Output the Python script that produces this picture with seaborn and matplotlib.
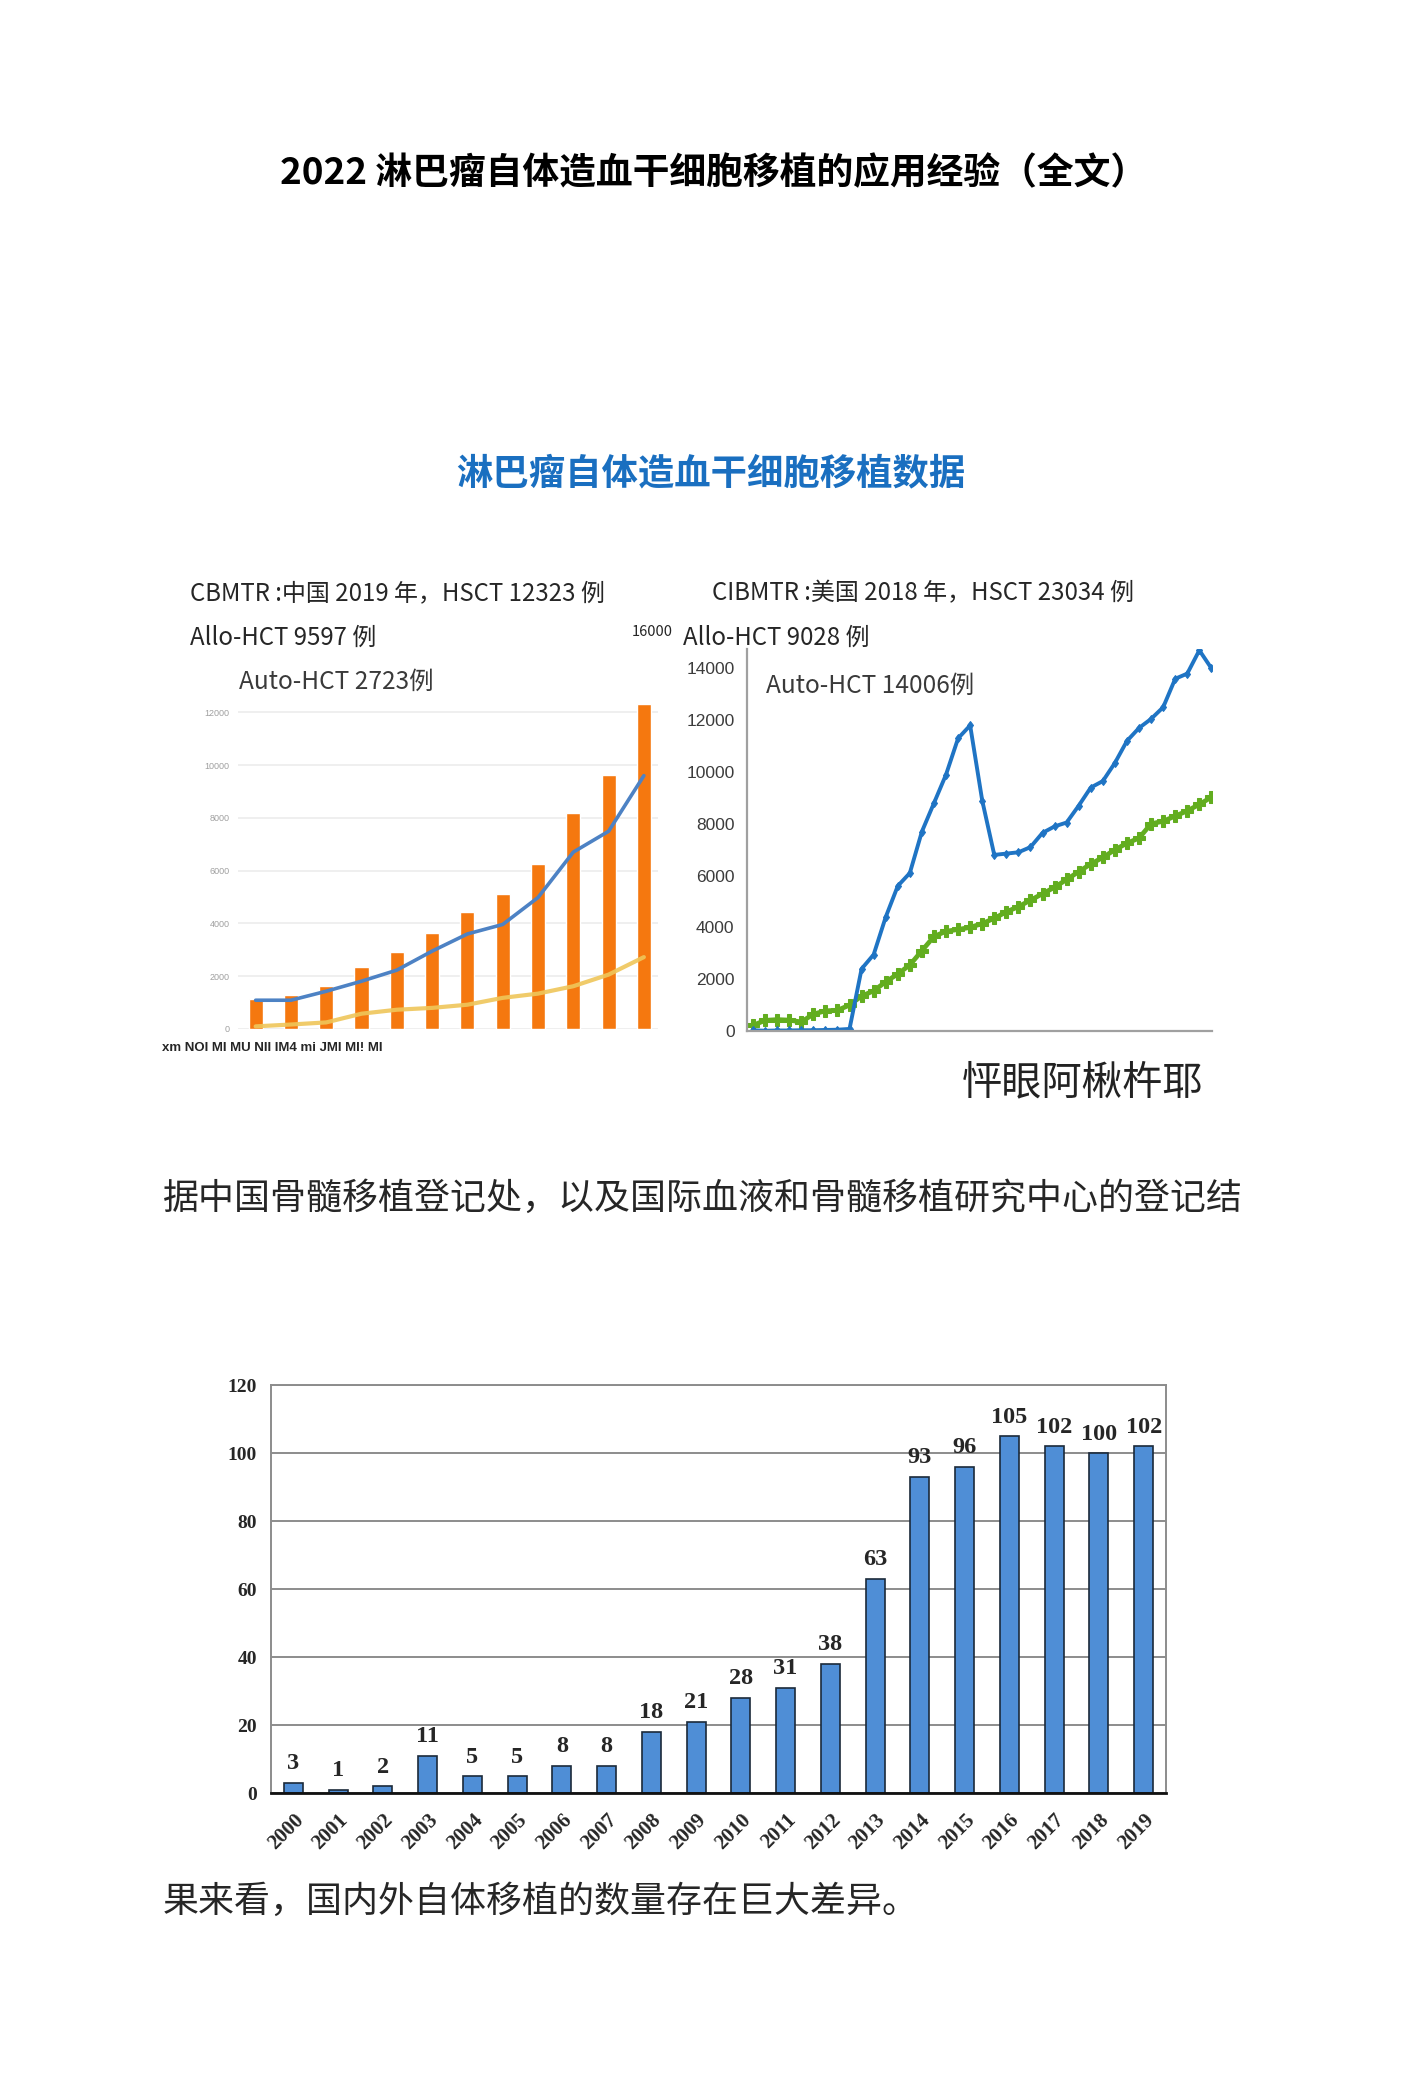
import numpy as np
import pandas as pd
import matplotlib.pyplot as plt
import seaborn as sns

# China (CBMTR), 2008-2019: total HSCT bars, allo (blue) and auto (yellow) lines
cn_years = list(range(2008, 2020))
cn_total = [1150, 1290, 1620, 2340, 2910, 3650, 4430, 5130, 6240, 8200, 9640, 12323]
cn_allo = [1090, 1090, 1430, 1810, 2230, 2950, 3600, 3960, 4980, 6700, 7490, 9597]
cn_auto = [100, 170, 250, 580, 730, 800, 920, 1180, 1340, 1620, 2060, 2723]

# USA (CIBMTR), 1980-2018: auto (blue) and allo (green)
us_years = list(range(1980, 2019))
us_auto = [30, 10, 20, 20, 30, 30, 40, 50, 80,
           2400, 2950, 4400, 5600, 6100, 7700, 8800, 9900, 11300, 11800,
           8900, 6800, 6850, 6900, 7100, 7650, 7900, 8050, 8700, 9400,
           9650, 10350, 11200, 11700, 12050, 12500, 13600, 13800, 14700, 14006]
us_allo = [220, 410, 440, 420, 350, 650, 780, 800, 1000,
           1350, 1550, 1900, 2200, 2550, 3100, 3650, 3850, 3920, 4000,
           4150, 4350, 4600, 4800, 5050, 5300, 5550, 5850, 6150, 6450,
           6700, 7000, 7250, 7450, 8000, 8100, 8300, 8500, 8750, 9028]

# lymphoma auto-HSCT per year (bottom chart)
bar_years = [str(y) for y in range(2000, 2020)]
bar_counts = [3, 1, 2, 11, 5, 5, 8, 8, 18, 21, 28, 31, 38, 63, 93, 96, 105, 102, 100, 102]

sns.set_style('white')
plt.rcParams['font.family'] = ['Noto Sans CJK SC', 'DejaVu Sans']

W, H = 1422, 2095
fig = plt.figure(figsize=(W / 100, H / 100), dpi=100, facecolor='white')


def px(x, y):
    return x / W, 1 - y / H


def rect(x0, y0, x1, y1):
    return [x0 / W, 1 - y1 / H, (x1 - x0) / W, (y1 - y0) / H]


# document text
fig.text(*px(714, 174), '2022 淋巴瘤自体造血干细胞移植的应用经验（全文）', ha='center', va='center',
         fontsize=26.5, fontweight='bold', color='black')
fig.text(*px(711, 474), '淋巴瘤自体造血干细胞移植数据', ha='center', va='center',
         fontsize=26.2, fontweight='bold', color='#1a6fc0')
fig.text(*px(190, 593), 'CBMTR :中国 2019 年，HSCT 12323 例', ha='left', va='center', fontsize=17.3)
fig.text(*px(190, 638), 'Allo-HCT 9597 例', ha='left', va='center', fontsize=17.3)
fig.text(*px(712, 593), 'CIBMTR :美国 2018 年，HSCT 23034 例', ha='left', va='center', fontsize=17.3)
fig.text(*px(632, 632), '16000', ha='left', va='center', fontsize=10.5)
fig.text(*px(683, 638), 'Allo-HCT 9028 例', ha='left', va='center', fontsize=17.3)
fig.text(*px(239, 682), 'Auto-HCT 2723例', ha='left', va='center', fontsize=17.6, color='#3a3a3a')
fig.text(*px(766, 686), 'Auto-HCT 14006例', ha='left', va='center', fontsize=17.6, color='#3a3a3a')
fig.text(*px(162, 1048), 'xm NOI MI MU NII IM4 mi JMI MI! MI', ha='left', va='center',
         fontsize=9.5, fontweight='bold', family=['Liberation Sans', 'DejaVu Sans'])
fig.text(*px(962, 1083), '怦眼阿楸杵耶', ha='left', va='center', fontsize=29, color='#222222')
fig.text(*px(163, 1199), '据中国骨髓移植登记处，以及国际血液和骨髓移植研究中心的登记结',
         ha='left', va='center', fontsize=25.9)
fig.text(*px(163, 1902), '果来看，国内外自体移植的数量存在巨大差异。', ha='left', va='center', fontsize=25.9)

# left chart: China
ax1 = fig.add_axes(rect(238, 696, 658, 1029))
cn_df = pd.DataFrame({'year': cn_years, 'total': cn_total, 'allo': cn_allo, 'auto': cn_auto})
cn_df['idx'] = np.arange(len(cn_df))
sns.barplot(data=cn_df, x='idx', y='total', color='#f5780f', saturation=1, width=0.4, ax=ax1)
sns.lineplot(data=cn_df, x='idx', y='allo', color='#4d82c4', linewidth=2.6, ax=ax1)
sns.lineplot(data=cn_df, x='idx', y='auto', color='#efc65a', linewidth=3, alpha=0.9, ax=ax1)
ax1.set_xlim(-0.5, 11.4)
ax1.set_ylim(0, 12614)
ax1.set_yticks(range(0, 12001, 2000))
ax1.set_yticklabels([str(v) for v in range(0, 12001, 2000)], fontsize=6.5, color='#a0a0a0',
                    family=['Liberation Sans Narrow', 'Liberation Sans'])
ax1.set_xticks([])
ax1.tick_params(axis='y', length=0, pad=6)
ax1.yaxis.grid(True, color='#eeeeee', linewidth=1.3)
ax1.set_axisbelow(True)
for s in ax1.spines.values():
    s.set_visible(False)
ax1.set_xlabel('')
ax1.set_ylabel('')

# right chart: USA
ax2 = fig.add_axes(rect(747, 649, 1212, 1031))
us_df = pd.DataFrame({'year': us_years, 'auto': us_auto, 'allo': us_allo})
us_df['idx'] = np.arange(len(us_df))
sns.lineplot(data=us_df, x='idx', y='allo', color='#62ad1f', linewidth=3.4, marker='P',
             markersize=8, markeredgecolor='#62ad1f', ax=ax2)
sns.lineplot(data=us_df, x='idx', y='auto', color='#1f74c4', linewidth=2.8, marker='d',
             markersize=4.5, markeredgecolor='#1f74c4', ax=ax2)
ax2.set_xlim(-0.5, 38.05)
ax2.set_ylim(0, 14750)
ax2.set_yticks(range(0, 14001, 2000))
ax2.set_yticklabels([str(v) for v in range(0, 14001, 2000)], fontsize=12.5, color='#3c3c3c',
                    family=['Liberation Sans Narrow', 'Liberation Sans'])
ax2.set_xticks(np.arange(-0.5, 38.5, 1))
ax2.set_xticklabels([])
ax2.tick_params(axis='x', length=5, width=1.2, color='#9a9a9a', direction='out')
ax2.tick_params(axis='y', length=4, width=1.2, color='#9a9a9a', pad=5)
for side in ['top', 'right']:
    ax2.spines[side].set_visible(False)
for side in ['left', 'bottom']:
    ax2.spines[side].set_color('#a0a0a0')
    ax2.spines[side].set_linewidth(1.6)
ax2.set_xlabel('')
ax2.set_ylabel('')

# bottom chart
ax3 = fig.add_axes(rect(271, 1385, 1166, 1793))
bar_df = pd.DataFrame({'year': bar_years, 'count': bar_counts})
sns.barplot(data=bar_df, x='year', y='count', color='#4f8ed6', saturation=1, width=0.43,
            edgecolor='#1b2a3a', linewidth=1.2, ax=ax3)
serif_bold = dict(family=['Liberation Serif', 'DejaVu Serif'], fontweight='bold')
ax3.bar_label(ax3.containers[0], labels=[str(v) for v in bar_counts], padding=6,
              fontsize=17.5, **serif_bold)
ax3.set_ylim(0, 120)
ax3.set_xlim(-0.5, 19.5)
ax3.set_yticks(range(0, 121, 20))
ax3.set_yticklabels([str(v) for v in range(0, 121, 20)], fontsize=14, **serif_bold)
ax3.set_xticks(range(len(bar_years)))
ax3.set_xticklabels(bar_years, rotation=45, ha='right', rotation_mode='anchor', fontsize=15, **serif_bold)
ax3.tick_params(axis='x', length=0, pad=12)
ax3.tick_params(axis='y', length=0, pad=10)
ax3.yaxis.grid(True, color='#8c8c8c', linewidth=1.4)
ax3.set_axisbelow(True)
for side in ['top', 'right', 'left']:
    ax3.spines[side].set_color('#8c8c8c')
    ax3.spines[side].set_linewidth(1.4)
ax3.spines['bottom'].set_color('#111111')
ax3.spines['bottom'].set_linewidth(2)
ax3.set_xlabel('')
ax3.set_ylabel('')

fig.savefig('out.png', dpi=100, facecolor='white')
